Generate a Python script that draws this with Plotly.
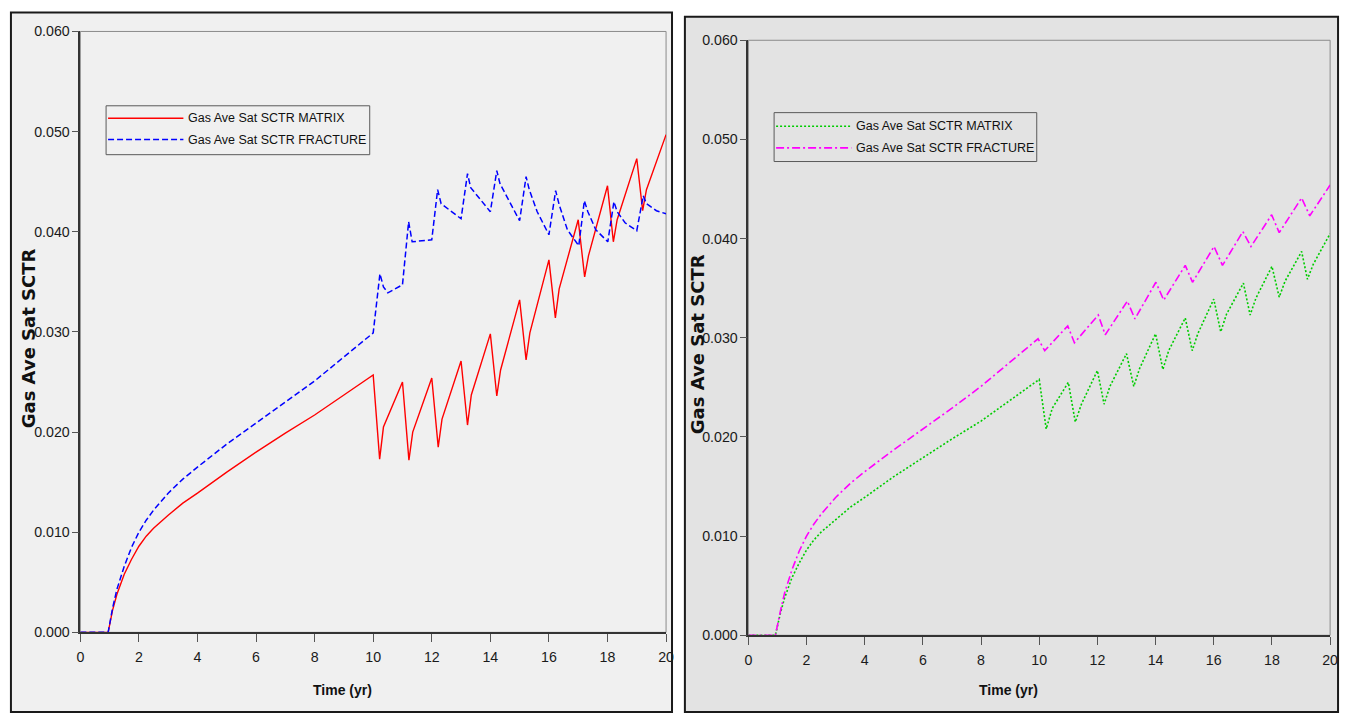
import plotly.graph_objects as go

# ---------------- data ----------------
x_ticks = [0, 2, 4, 6, 8, 10, 12, 14, 16, 18, 20]
y_ticks = [0.0, 0.01, 0.02, 0.03, 0.04, 0.05, 0.06]
y_tick_text = ["0.000", "0.010", "0.020", "0.030", "0.040", "0.050", "0.060"]

series_names = ["Gas Ave Sat SCTR MATRIX", "Gas Ave Sat SCTR FRACTURE"]

# left chart
left_matrix_t = [0, 0.95, 1.1, 1.25, 1.5, 1.75, 2, 2.25, 2.5, 3, 3.5, 4, 5, 6, 7, 8, 9, 10.0,
                 10.22, 10.35, 11.0, 11.22, 11.35, 12.0, 12.22, 12.35, 13.0, 13.22, 13.35,
                 14.0, 14.22, 14.35, 15.0, 15.22, 15.35, 16.0, 16.22, 16.35, 17.0, 17.22,
                 17.35, 18.0, 18.2, 18.33, 19.0, 19.2, 19.33, 20.0]
left_matrix_v = [0, 0, 0.0022, 0.0038, 0.0058, 0.0073, 0.0086, 0.0096, 0.0104, 0.0117, 0.0129,
                 0.0139, 0.0160, 0.0180, 0.0199, 0.0217, 0.0237, 0.0257,
                 0.0173, 0.0205, 0.0250, 0.0172, 0.0200, 0.0254, 0.0185, 0.0213, 0.0271, 0.0207,
                 0.0237, 0.0298, 0.0236, 0.0262, 0.0332, 0.0272, 0.0299, 0.0372, 0.0314, 0.0343,
                 0.0412, 0.0355, 0.0376, 0.0446, 0.0390, 0.0412, 0.0473, 0.0421, 0.0442, 0.0497]

left_fracture_t = [0, 0.95, 1.1, 1.25, 1.5, 1.75, 2, 2.25, 2.5, 3, 3.5, 4, 5, 6, 7, 8, 9, 10.0,
                   10.23, 10.35, 10.5, 11.0, 11.21, 11.33, 12.0, 12.2, 12.32, 13.0, 13.22, 13.33,
                   14.0, 14.22, 14.33, 15.0, 15.22, 15.33, 15.6, 16.0, 16.23, 16.35, 16.63, 17.02,
                   17.21, 17.33, 17.6, 18.01, 18.22, 18.33, 18.6, 19.0, 19.22, 19.33, 19.67, 20.0]
left_fracture_v = [0, 0, 0.0024, 0.0043, 0.0066, 0.0085, 0.0100, 0.0112, 0.0122, 0.0139, 0.0153,
                   0.0165, 0.0188, 0.0209, 0.0230, 0.0251, 0.0275, 0.0299,
                   0.0358, 0.0345, 0.0339, 0.0347, 0.0410, 0.0390, 0.0392, 0.0442, 0.0428, 0.0413,
                   0.0458, 0.0444, 0.0420, 0.0461, 0.0448, 0.0411, 0.0455, 0.0442, 0.0420, 0.0397,
                   0.0441, 0.0427, 0.0402, 0.0386, 0.0431, 0.0420, 0.0402, 0.0390, 0.0430, 0.0420,
                   0.0409, 0.0401, 0.0436, 0.0428, 0.0421, 0.0418]

# right chart
right_matrix_t = [0, 0.93, 1.1, 1.25, 1.5, 1.75, 2, 2.25, 2.5, 3, 3.5, 4, 5, 6, 7, 8, 9, 10.0,
                  10.24, 10.45, 11.0, 11.24, 11.45, 12.0, 12.23, 12.43, 13.0, 13.25, 13.45,
                  14.0, 14.25, 14.45, 15.02, 15.26, 15.45, 16.0, 16.24, 16.44, 17.02, 17.25,
                  17.45, 18.0, 18.25, 18.45, 19.02, 19.22, 19.42, 20.0]
right_matrix_v = [0, 0, 0.0022, 0.0038, 0.0058, 0.0073, 0.0086, 0.0096, 0.0104, 0.0117, 0.0129,
                  0.0139, 0.0160, 0.0179, 0.0198, 0.0216, 0.0237, 0.0258,
                  0.0208, 0.0229, 0.0255, 0.0215, 0.0233, 0.0267, 0.0233, 0.0251, 0.0284, 0.0251,
                  0.0269, 0.0304, 0.0268, 0.0287, 0.0320, 0.0287, 0.0304, 0.0339, 0.0306, 0.0324,
                  0.0355, 0.0323, 0.0340, 0.0372, 0.0341, 0.0357, 0.0387, 0.0359, 0.0374, 0.0405]

right_fracture_t = [0, 0.93, 1.1, 1.25, 1.5, 1.75, 2, 2.25, 2.5, 3, 3.5, 4, 5, 6, 7, 8, 9, 9.96,
                    10.19, 10.98, 11.21, 12.03, 12.27, 13.03, 13.29, 14.01, 14.28, 15.02, 15.27,
                    16.01, 16.3, 17.0, 17.28, 17.99, 18.25, 19.02, 19.3, 20.0]
right_fracture_v = [0, 0, 0.0024, 0.0043, 0.0066, 0.0085, 0.0100, 0.0112, 0.0122, 0.0139, 0.0153,
                    0.0165, 0.0187, 0.0208, 0.0229, 0.0251, 0.0275, 0.0299,
                    0.0287, 0.0312, 0.0295, 0.0323, 0.0303, 0.0337, 0.0319, 0.0356, 0.0338, 0.0373,
                    0.0356, 0.0392, 0.0373, 0.0407, 0.0392, 0.0424, 0.0406, 0.0441, 0.0423, 0.0454]

# ---------------- styling ----------------
W, H = 1351, 722
SANS = "Liberation Sans, Arial, sans-serif"
WIDE_BOLD = "DejaVu Sans, Verdana, sans-serif"

def px(x):
    return x / W

def py(y):
    return 1 - y / H

styles = {
    "lm": dict(color="#ff0000", width=1.4, dash="solid"),
    "lf": dict(color="#0000ff", width=1.5, dash="6px,3px"),
    "rm": dict(color="#00cc00", width=1.6, dash="2px,2px"),
    "rf": dict(color="#ff00ff", width=1.6, dash="8px,3px,2px,3px"),
}

fig = go.Figure()
fig.add_trace(go.Scatter(x=left_matrix_t, y=left_matrix_v, mode="lines", name=series_names[0],
                         line=styles["lm"], xaxis="x", yaxis="y", showlegend=False))
fig.add_trace(go.Scatter(x=left_fracture_t, y=left_fracture_v, mode="lines", name=series_names[1],
                         line=styles["lf"], xaxis="x", yaxis="y", showlegend=False))
fig.add_trace(go.Scatter(x=right_matrix_t, y=right_matrix_v, mode="lines", name=series_names[0],
                         line=styles["rm"], xaxis="x2", yaxis="y2", showlegend=False))
fig.add_trace(go.Scatter(x=right_fracture_t, y=right_fracture_v, mode="lines", name=series_names[1],
                         line=styles["rf"], xaxis="x2", yaxis="y2", showlegend=False))

# plot-area pixel boxes
L = dict(x0=77, x1=668, y0=24, y1=638.5)
R = dict(x0=751, x1=1338, y0=33, y1=641.5)

TICKFONT = dict(family=SANS, size=14.2, color="#1a1a1a")

def xax(box, anchor):
    return dict(domain=[px(box["x0"]), px(box["x1"])], range=[0, 20], anchor=anchor,
                tickvals=x_ticks, ticks="outside", ticklen=8, tickwidth=1.2, tickcolor="#555",
                ticklabelstandoff=3,
                showline=True, linecolor="#333", linewidth=1.5, showgrid=False, zeroline=False,
                tickfont=TICKFONT)

def yax(box, anchor):
    return dict(domain=[py(box["y1"]), py(box["y0"])], range=[0, 0.06], anchor=anchor,
                tickvals=y_ticks, ticktext=y_tick_text, ticks="outside", ticklen=7, tickwidth=1.2,
                ticklabelstandoff=-1,
                tickcolor="#555", showline=True, linecolor="#333", linewidth=1.5, showgrid=False,
                zeroline=False, tickfont=TICKFONT)

shapes = []
# panel backgrounds + borders
shapes.append(dict(type="rect", xref="paper", yref="paper", x0=px(7), x1=px(674), y0=py(720), y1=py(4.5),
                   fillcolor="#f0f0f0", line=dict(color="#1a1a1a", width=2), layer="below"))
shapes.append(dict(type="rect", xref="paper", yref="paper", x0=px(687), x1=px(1346), y0=py(720), y1=py(9),
                   fillcolor="#e3e3e3", line=dict(color="#1a1a1a", width=2), layer="below"))
# plot area frame (top/right thin gray)
for xr, yr in (("x", "y"), ("x2", "y2")):
    shapes.append(dict(type="rect", xref=xr + " domain", yref=yr + " domain", x0=0, x1=1, y0=0, y1=1,
                       line=dict(color="#8a8a8a", width=1), fillcolor="rgba(0,0,0,0)", layer="below"))

annotations = []

def legend(box, row_y, keys, bg):
    x0, x1, y0, y1 = box
    shapes.append(dict(type="rect", xref="paper", yref="paper", x0=px(x0), x1=px(x1), y0=py(y1), y1=py(y0),
                       fillcolor=bg, line=dict(color="#5a5a5a", width=1), layer="above"))
    for ry, key, name in zip(row_y, keys, series_names):
        st = styles[key]
        shapes.append(dict(type="line", xref="paper", yref="paper", x0=px(x0 + 2), x1=px(x0 + 78),
                           y0=py(ry), y1=py(ry), line=dict(color=st["color"], width=st["width"], dash=st["dash"]),
                           layer="above"))
        annotations.append(dict(xref="paper", yref="paper", x=px(x0 + 81), y=py(ry), text=name,
                                showarrow=False, xanchor="left", yanchor="middle",
                                font=dict(family=SANS, size=12.5, color="#111")))

legend((103, 369, 100, 150), (112.7, 134.5), ("lm", "lf"), "#f0f0f0")
legend((777, 1042, 107, 157), (121, 143), ("rm", "rf"), "#e3e3e3")

# axis titles
for cx, cy in ((342, 697), (1013, 697)):
    annotations.append(dict(xref="paper", yref="paper", x=px(cx), y=py(cy), text="<b>Time (yr)</b>",
                            showarrow=False, xanchor="center", yanchor="middle",
                            font=dict(family=SANS, size=14, color="#111")))
for cx, cy in ((25, 338), (700, 344)):
    annotations.append(dict(xref="paper", yref="paper", x=px(cx), y=py(cy), text="<b>Gas Ave Sat SCTR</b>",
                            showarrow=False, xanchor="center", yanchor="middle", textangle=-90,
                            font=dict(family=WIDE_BOLD, size=18, color="#111")))

fig.update_layout(
    width=W, height=H, margin=dict(l=0, r=0, t=0, b=0),
    paper_bgcolor="white", plot_bgcolor="rgba(0,0,0,0)",
    xaxis=xax(L, "y"), yaxis=yax(L, "x"),
    xaxis2=xax(R, "y2"), yaxis2=yax(R, "x2"),
    shapes=shapes, annotations=annotations, showlegend=False,
)

fig.write_html("out.html")
